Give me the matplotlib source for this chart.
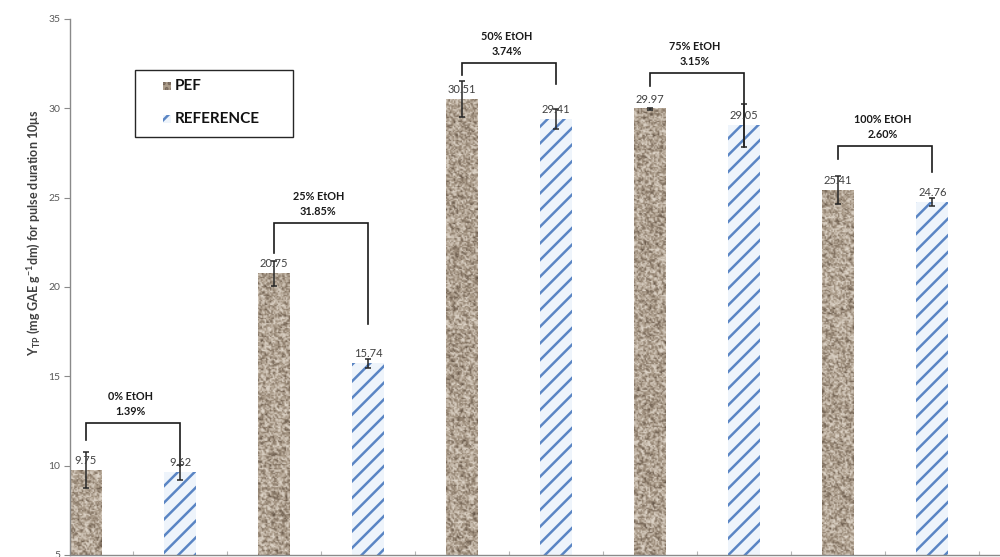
import numpy as np
import matplotlib
matplotlib.use("Agg")
import matplotlib.pyplot as plt
from matplotlib.colors import LinearSegmentedColormap
from matplotlib.patches import Rectangle

plt.rcParams["font.family"] = ["Lato", "DejaVu Sans"]
plt.rcParams["mathtext.fontset"] = "custom"
plt.rcParams["mathtext.rm"] = "Lato"
plt.rcParams["mathtext.bf"] = "Lato:bold"
plt.rcParams["hatch.linewidth"] = 1.8

# Total polyphenol yield per solvent, PEF-assisted vs. reference extraction
solvents = ["0% EtOH", "25% EtOH", "50% EtOH", "75% EtOH", "100% EtOH"]
pef_yield = [9.75, 20.75, 30.51, 29.97, 25.41]
ref_yield = [9.62, 15.74, 29.41, 29.05, 24.76]
pef_err = [1.00, 0.70, 1.00, 0.05, 0.78]
ref_err = [0.40, 0.25, 0.55, 1.20, 0.20]
increase = ["1.39%", "31.85%", "3.74%", "3.15%", "2.60%"]

# Comparison brackets: (top, left leg end, right leg end) in y units
bracket_top = [12.39, 23.58, 32.53, 31.97, 27.90]
bracket_left = [11.43, 21.90, 31.86, 31.24, 27.16]
bracket_right = [9.98, 17.95, 31.36, 27.83, 26.43]

yticks = [5, 10, 15, 20, 25, 30, 35]
ylabel = r"Y$_{\mathbf{TP}}$ (mg GAE g$^{\mathbf{-1}}$dm) for pulse duration 10μs"

fig = plt.figure(figsize=(10, 5.57), dpi=100)
ax = fig.add_axes([0.07, 2 / 557, 0.93, 536 / 557])

ymin, ymax = yticks[0], yticks[-1]
n = len(solvents)
x_pef = np.arange(n) * 2.0
x_ref = x_pef + 1.0
width = 0.34

granite = LinearSegmentedColormap.from_list(
    "granite", ["#645547", "#8e7e6d", "#ab9c8a", "#c7bbad", "#ded5c9"])


def grain(rows, cols, seed):
    i, j = np.mgrid[0:rows, 0:cols].astype(float)
    v = np.sin(i * 12.9898 + j * 78.233 + seed * 4.1414) * 43758.5453
    return v - np.floor(v)


def speckle(rows, cols, seed):
    g = grain(rows, cols, seed)
    s = (g + np.roll(g, 1, 0) + np.roll(g, 1, 1)
         + np.roll(np.roll(g, 1, 0), 1, 1)) / 4.0
    t = 0.5 * g + 0.5 * s
    return np.clip((t - 0.5) * 1.3 + 0.55, 0, 1)


# PEF bars with a stone-grain fill
ax.bar(x_pef, pef_yield, width, color="#ab9c8a", linewidth=0, zorder=2)
for k, (x, v) in enumerate(zip(x_pef, pef_yield)):
    rows = max(int((v - ymin) * 14), 2)
    ax.imshow(speckle(rows, 24, k + 1), cmap=granite, vmin=0, vmax=1,
              extent=[x - width / 2, x + width / 2, ymin, v],
              aspect="auto", interpolation="bilinear", zorder=2.1)

# Reference bars with diagonal stripes
ax.bar(x_ref, ref_yield, width, facecolor="#eef4fb", edgecolor="#5a85c4",
       linewidth=0, hatch="//", zorder=2)

ax.errorbar(x_pef, pef_yield, yerr=pef_err, fmt="none", ecolor="#262626",
            elinewidth=1.1, capsize=2.5, capthick=1.1, zorder=4)
ax.errorbar(x_ref, ref_yield, yerr=ref_err, fmt="none", ecolor="#262626",
            elinewidth=1.1, capsize=2.5, capthick=1.1, zorder=4)

for xs, vals in ((x_pef, pef_yield), (x_ref, ref_yield)):
    for x, v in zip(xs, vals):
        ax.annotate(f"{v:.2f}", (x, v), xytext=(0, 3), textcoords="offset points",
                    ha="center", va="bottom", fontsize=8, color="#404040", zorder=5)

for i in range(n):
    xl, xr = x_pef[i], x_ref[i]
    ax.plot([xl, xl, xr, xr],
            [bracket_left[i], bracket_top[i], bracket_top[i], bracket_right[i]],
            color="#1a1a1a", lw=1.2, zorder=3, solid_joinstyle="miter")
    ax.annotate(f"{solvents[i]}\n{increase[i]}", ((xl + xr) / 2 - 0.03, bracket_top[i]),
                xytext=(0, 4.5), textcoords="offset points", ha="center", va="bottom",
                fontsize=7.8, fontweight="bold", color="#1a1a1a", linespacing=1.45)

# Legend box
ax.add_patch(Rectangle((0.0699, 0.780), 0.170, 0.125, transform=ax.transAxes,
                       facecolor="white", edgecolor="#262626", lw=1.0, zorder=6))
sq_w, sq_h = 0.0090, 0.0150
ax.add_patch(Rectangle((0.1000, 0.875 - sq_h / 2), sq_w, sq_h, transform=ax.transAxes,
                       facecolor="#ab9c8a", edgecolor="#75665a", hatch="...",
                       lw=0, zorder=7))
ax.add_patch(Rectangle((0.1000, 0.813 - sq_h / 2), sq_w, sq_h, transform=ax.transAxes,
                       facecolor="#eef4fb", edgecolor="#5a85c4", hatch="//",
                       lw=0, zorder=7))
ax.text(0.1130, 0.875, "PEF", transform=ax.transAxes, ha="left", va="center",
        fontsize=11, fontweight="bold", color="#111111", zorder=8)
ax.text(0.1130, 0.813, "REFERENCE", transform=ax.transAxes, ha="left", va="center",
        fontsize=11, fontweight="bold", color="#111111", zorder=8)

# Axes styling
ax.set_xlim(-0.17, 9.72)
ax.set_ylim(ymin, ymax)
ax.set_yticks(yticks)
ax.set_xticks(np.arange(0.5, 2 * n, 1.0))
ax.set_xticklabels([])
for side in ("top", "right"):
    ax.spines[side].set_visible(False)
for side in ("left", "bottom"):
    ax.spines[side].set_color("#8a8a8a")
    ax.spines[side].set_linewidth(1.0)
ax.tick_params(axis="y", labelsize=7.5, labelcolor="#595959", color="#8a8a8a",
               length=4, direction="out", pad=3)
ax.tick_params(axis="x", color="#b5b5b5", length=3, direction="in")

fig.text(0.034, 0.582, ylabel, rotation=90, ha="center", va="center",
         fontsize=9, fontweight="bold", color="#404040")

fig.savefig("out.png", dpi=100)
